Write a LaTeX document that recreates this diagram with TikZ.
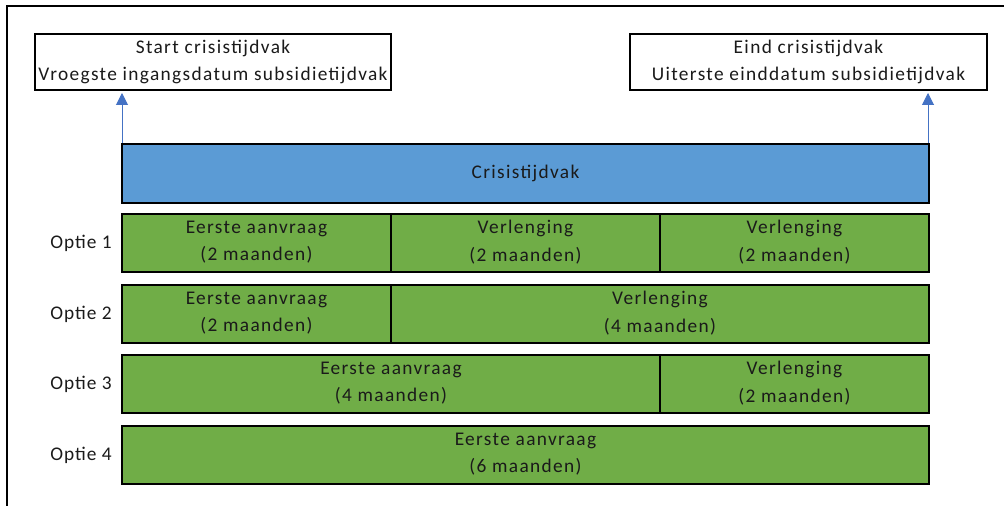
\documentclass[tikz,border=0pt]{standalone}
\usepackage{fontspec}
\setmainfont{Carlito}
\newfontfamily\boxfont[LetterSpace=7]{Carlito}
\newfontfamily\optfont[LetterSpace=5]{Carlito}
\usetikzlibrary{arrows.meta}
\definecolor{cblue}{HTML}{5B9BD5}
\definecolor{cgreen}{HTML}{70AD47}
\definecolor{carrow}{HTML}{4472C4}
\definecolor{ctext}{HTML}{1A1A1A}
\tikzset{
  labelbox/.style={draw=black, line width=1.5pt, fill=white, inner sep=0pt, align=center, font=\boxfont\fontsize{14.5}{20.5}\selectfont, text=ctext},
  bar/.style={draw=black, line width=1.5pt, inner sep=0pt, align=center, font=\boxfont\fontsize{14.5}{20.5}\selectfont, text=ctext},
  crisis/.style={bar, fill=cblue},
  seg/.style={bar, fill=cgreen},
  segtext/.style={inner sep=0pt, align=center, font=\boxfont\fontsize{14.5}{20.5}\selectfont, text=ctext},
  optlabel/.style={anchor=east, inner sep=0pt, font=\optfont\fontsize{14.5}{16}\selectfont, text=ctext},
  marker/.style={draw=carrow, line width=0.75pt, -{Triangle[width=9pt,length=9pt]}},
}
\newcommand{\segbox}[6]{% name, x1, y1, x2, y2, text
  \path[seg] (#2,#3) rectangle (#4,#5);
  \node[segtext] (#1) at ({(#2+#4)/2},{(#3+#5)/2 - 1}) {#6};
}
\begin{document}
\begin{tikzpicture}[x=0.75pt,y=-0.75pt]
\useasboundingbox (0,0) rectangle (1004,506);
% outer frame (left and top)
\draw[line width=1.5pt] (7,506) -- (7,6) -- (1004,6);

% top boxes
\node[labelbox, minimum width=356*0.75pt, minimum height=56*0.75pt] (start) at (213,62)
  {Start crisistijdvak\\Vroegste ingangsdatum subsidietijdvak};
\node[labelbox, minimum width=357*0.75pt, minimum height=56*0.75pt] (eind) at (808.5,62)
  {Eind crisistijdvak\\Uiterste einddatum subsidietijdvak};

% crisis bar
\node[crisis, minimum width=807*0.75pt, minimum height=59*0.75pt] (crisis) at (525.5,173.5) {Crisistijdvak};

\coordinate (sa) at (122,143);
\coordinate (ea) at (928,143);
\coordinate (sat) at (122,93);
\coordinate (eat) at (928,93);
\draw[marker] (sa) -- (sat);
\draw[marker] (ea) -- (eat);

% Optie 1
\node[optlabel] (o1) at (112,243) {Optie 1};
\segbox{o1a}{122}{214}{391}{272}{Eerste aanvraag\\(2 maanden)}
\segbox{o1b}{391}{214}{660}{272}{Verlenging\\(2 maanden)}
\segbox{o1c}{660}{214}{929}{272}{Verlenging\\(2 maanden)}

% Optie 2
\node[optlabel] (o2) at (112,314) {Optie 2};
\segbox{o2a}{122}{285}{391}{343}{Eerste aanvraag\\(2 maanden)}
\segbox{o2b}{391}{285}{929}{343}{Verlenging\\(4 maanden)}

% Optie 3
\node[optlabel] (o3) at (112,384) {Optie 3};
\segbox{o3a}{122}{355}{660}{413}{Eerste aanvraag\\(4 maanden)}
\segbox{o3b}{660}{355}{929}{413}{Verlenging\\(2 maanden)}

% Optie 4
\node[optlabel] (o4) at (112,455) {Optie 4};
\segbox{o4a}{122}{426}{929}{484}{Eerste aanvraag\\(6 maanden)}
\end{tikzpicture}
\end{document}
